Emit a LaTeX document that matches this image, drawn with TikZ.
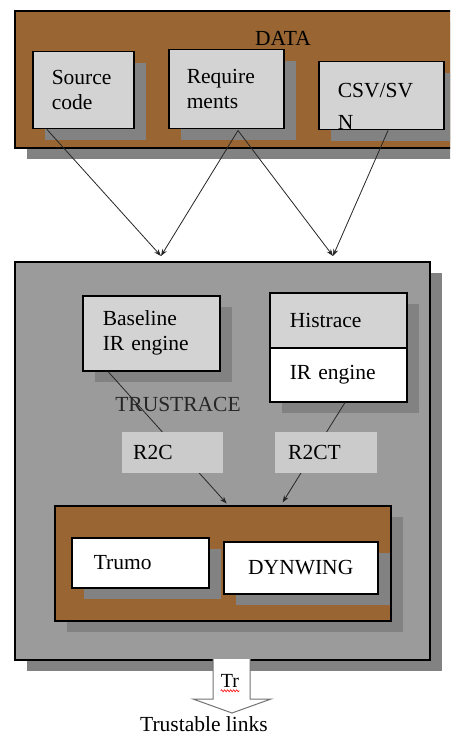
\documentclass[tikz,border=0pt]{standalone}
\usepackage{fontspec}
\setmainfont{Liberation Serif}
\usetikzlibrary{shadows,arrows.meta,calc,decorations.pathmorphing}
\definecolor{brownfill}{RGB}{153,102,51}
\definecolor{maingray}{RGB}{155,155,155}
\definecolor{shgray}{RGB}{130,130,130}
\definecolor{lightbox}{RGB}{211,211,211}
\definecolor{rbox}{RGB}{203,203,203}
\begin{document}
\begin{tikzpicture}[x=1pt,y=-1pt,
  font=\fontsize{21.5}{25}\selectfont,
  shd/.style={drop shadow={shadow xshift=12pt,shadow yshift=-11pt,fill=shgray,opacity=1}},
  box/.style={draw=black,line width=1.5pt,anchor=north west,shd,inner sep=0pt,align=left},
  graybox/.style={box,fill=lightbox},
  whitebox/.style={box,fill=white},
  rlabel/.style={fill=rbox,anchor=north west,inner sep=0pt,align=left},
  link/.style={line width=0.8pt,black!85,-{Stealth[length=7pt,width=5pt]}},
  plain/.style={inner sep=0pt}
]
\useasboundingbox (0,0) rectangle (450,735);
\clip (0,0) rectangle (450,735);
\fill[white] (0,0) rectangle (450,735);

% DATA
\node[box,fill=brownfill,line width=2pt,minimum width=460pt,minimum height=137pt] (data) at (14,10) {};
\node[plain] (datalbl) at (283,38) {DATA};
\node[graybox,minimum width=101pt,minimum height=77pt,text width=63pt] (src) at (32,51) {Source\\code};
\node[graybox,minimum width=115pt,minimum height=79pt,text width=79pt] (req) at (168,49) {Require\\ments};
\node[graybox,minimum width=125pt,minimum height=62pt,text width=87pt] (csv) at (318,61) {\rule{0pt}{36pt}CSV/SV\\[7pt]N};

% TRUSTRACE
\node[box,fill=maingray,minimum width=415pt,minimum height=398pt] (trust) at (14,261) {};

\coordinate (tipL) at (161,256);
\coordinate (tipR) at (333,256);
\draw[link] ($(src.south west)+(15,0)$) -- (tipL);
\draw[link] ($(req.south west)+(70,1)$) -- (tipL);
\draw[link] ($(req.south west)+(70,1)$) -- (tipR);
\draw[link] ($(csv.south west)+(70,0)$) -- (tipR);

\node[graybox,minimum width=137pt,minimum height=75pt,text width=97pt] (base) at (82,295) {Baseline\\IR engine};
\node[graybox,minimum width=137pt,minimum height=55pt,text width=97pt] (hist) at (269,292) {Histrace};
\node[whitebox,minimum width=137pt,minimum height=54pt,text width=97pt] (ireng) at (269,347) {IR engine};

% brown inner box
\node[box,fill=brownfill,minimum width=336pt,minimum height=115pt] (brown) at (54,505) {};
\node[whitebox,minimum width=137pt,minimum height=50pt,text width=93pt] (trumo) at (71,537) {Trumo};
\node[whitebox,align=center,minimum width=154pt,minimum height=52pt] (dyn) at (223,541) {DYNWING};

\draw[link,shorten >=2pt] ($(base.south west)+(26,0)$) -- ($(brown.north west)+(174,0)$);
\draw[link,shorten >=3pt] ($(ireng.south west)+(76,0)$) -- ($(brown.north west)+(227,0)$);

\node[plain,text=black!85] (trlbl) at (178,404) {TRUSTRACE};
\node[rlabel,minimum width=101pt,minimum height=41pt,text width=79pt] (r2c) at (122,432) {R2C};
\node[rlabel,minimum width=102pt,minimum height=41pt,text width=76pt] (r2ct) at (275,432) {R2CT};

% output block arrow
\draw[draw=black!55,fill=white,line width=1pt]
  (213,659) -- (213,699) -- (193,699) -- (232,713) -- (271,699) -- (250,699) -- (250,659);
\node[plain,font=\fontsize{20}{24}\selectfont] (trtxt) at (230,681) {Tr};
\draw[red,line width=0.6pt,decorate,decoration={snake,amplitude=1pt,segment length=3pt}]
  ($(trtxt.south west)+(0,3)$) -- ($(trtxt.south east)+(0,3)$);
\node[plain] (links) at (204,724) {Trustable links};
\end{tikzpicture}
\end{document}
